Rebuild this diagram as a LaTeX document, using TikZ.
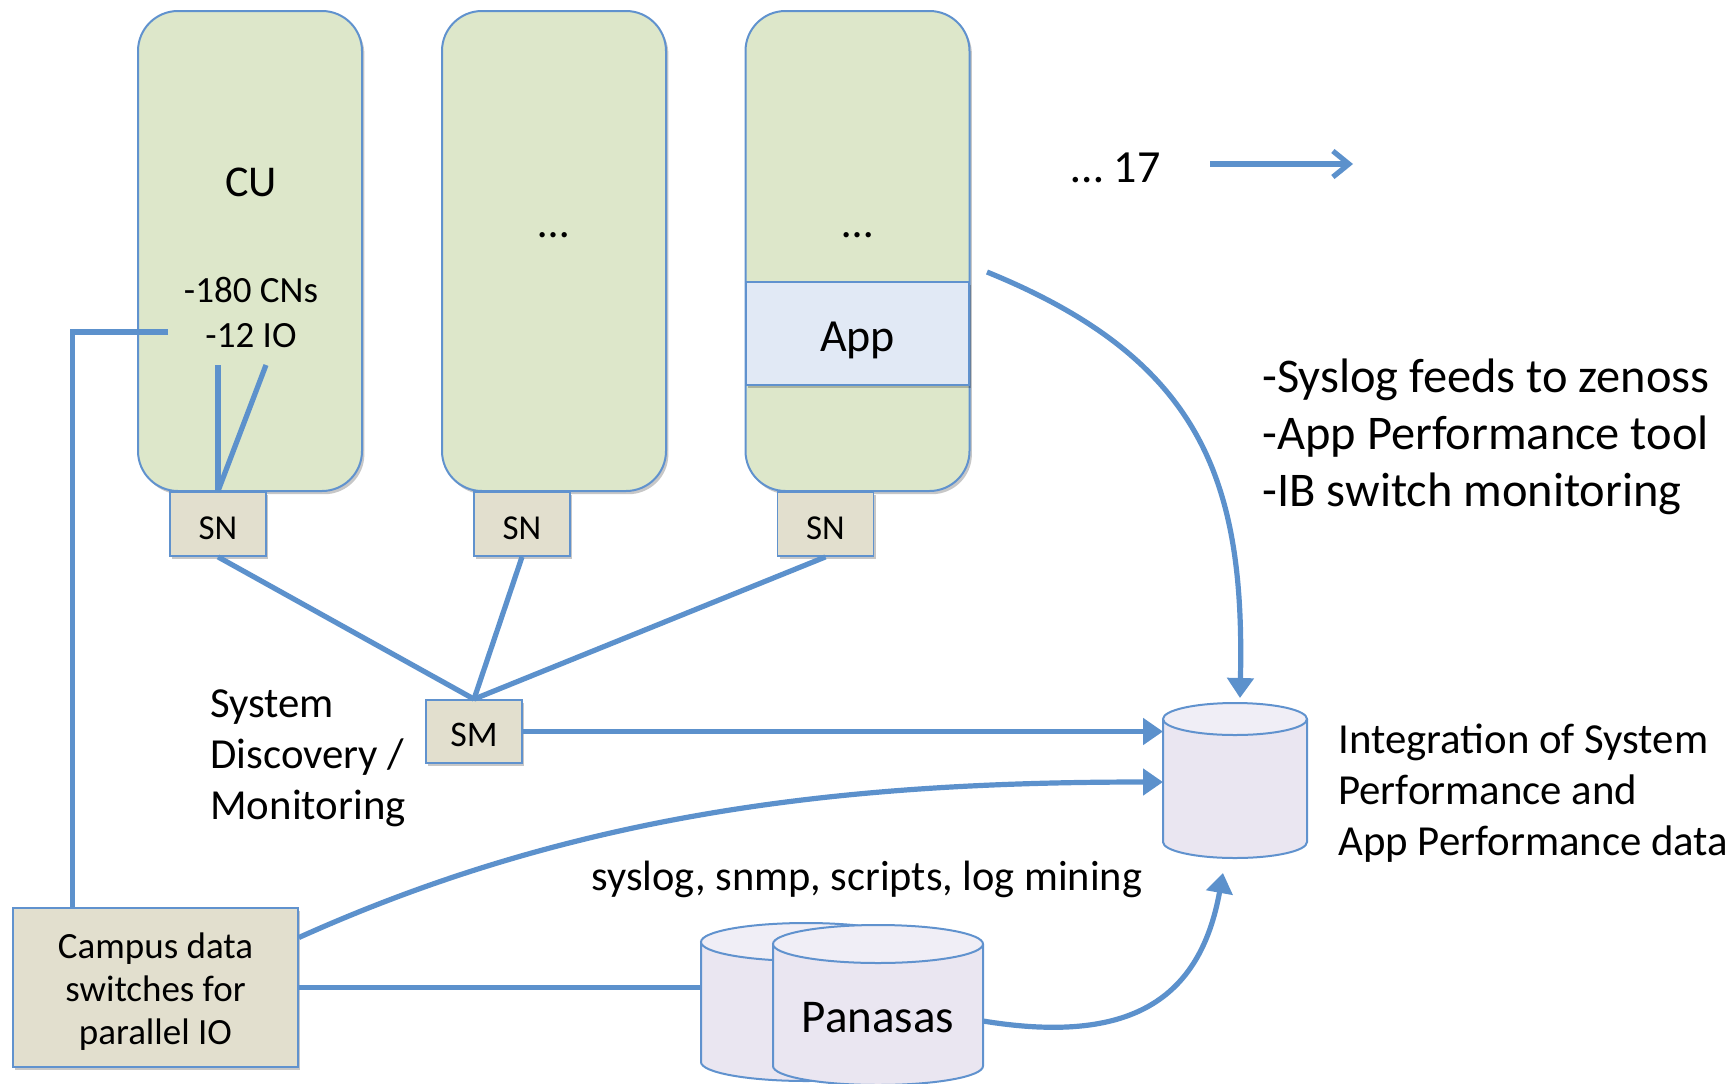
\documentclass[tikz,border=0pt]{standalone}
\usepackage{fontspec}
\setmainfont{Carlito}
\usetikzlibrary{arrows.meta,shadows}

\definecolor{linkblue}{RGB}{92,145,204}
\definecolor{edgeblue}{RGB}{96,146,206}
\definecolor{rackgreen}{RGB}{221,231,202}
\definecolor{appblue}{RGB}{225,233,245}
\definecolor{switchtan}{RGB}{226,223,206}
\definecolor{cylbody}{RGB}{234,230,241}
\definecolor{cyltop}{RGB}{240,238,246}

\newcommand\setfs[2]{\fontsize{#1}{#2}\selectfont}

\begin{document}
\begin{tikzpicture}[x=0.5pt,y=-0.5pt,
  softshadow/.style={drop shadow={shadow xshift=1.2pt,shadow yshift=-1.6pt,opacity=0.22,fill=black}},
  rack/.style={draw=edgeblue,line width=1pt,fill=rackgreen,rounded corners=20pt,
    minimum width=112pt,minimum height=240pt,inner sep=0pt,softshadow},
  band/.style={draw=edgeblue,line width=1pt,fill=appblue,minimum width=111.5pt,
    minimum height=51.5pt,inner sep=0pt,softshadow,font=\setfs{23}{27}},
  switchbox/.style={draw=edgeblue,line width=0.9pt,fill=switchtan,inner sep=0pt,softshadow},
  snbox/.style={switchbox,minimum width=48pt,minimum height=32pt,font=\setfs{17.5}{20},text height=15.5pt},
  tag/.style={anchor=west,align=left,inner sep=0pt},
  hull/.style={inner sep=0pt,outer sep=0pt},
  conn/.style={draw=linkblue,line width=2.6pt},
  arr/.style={conn,-{Triangle[length=10pt,width=13pt]}},
  cylside/.style={fill=cylbody,draw=edgeblue,line width=1pt},
  cyllid/.style={fill=cyltop,draw=edgeblue,line width=1pt},
]
\useasboundingbox (0,0) rectangle (1731,1083);

% compute racks
\node[rack] (r1) at (250,251) {};
\node[rack] (r2) at (554,251) {};
\node[rack] (r3) at (857.5,251) {};
\node[band,text height=21.5pt] (app) at (857.5,333.5) {App};

\node[font=\setfs{22}{26}] (cu) at (251,182) {CU};
\node[font=\setfs{18.5}{22.5},align=center] (cns) at (251,312) {-180 CNs\\-12 IO};
\node[font=\setfs{22}{26}] (dots2) at (554,235) {…};
\node[font=\setfs{22}{26}] (dots3) at (858,235) {…};

% service nodes and switches
\node[snbox] (sn1) at (218,524) {SN};
\node[snbox] (sn2) at (522,524) {SN};
\node[snbox] (sn3) at (825.5,524) {SN};
\node[switchbox,minimum width=48pt,minimum height=31.5pt,font=\setfs{18}{21},text height=14.9pt] (sm) at (474,731.5) {SM};
\node[switchbox,minimum width=142.5pt,minimum height=79.5pt] (campus) at (155.5,987.5) {};
\node[align=center,font=\setfs{18.5}{21.5}] (campustext) at (155.5,992) {Campus data\\switches for\\parallel IO};

% text labels
\node[font=\setfs{23}{26}] (more) at (1116,168) {… 17};
\node[tag,font=\setfs{24.2}{28.5}] (feeds) at (1262,436.5)
  {-Syslog feeds to zenoss\\-App Performance tool\\-IB switch monitoring};
\node[tag,font=\setfs{21.4}{25.5}] (integ) at (1338,793.5)
  {Integration of System\\Performance and\\App Performance data};
\node[tag,font=\setfs{21.4}{25.5}] (disc) at (210,758.5)
  {System\\Discovery /\\Monitoring};
\node[font=\setfs{21.2}{25}] (tools) at (867,879) {syslog, snmp, scripts, log mining};

% outlines of the data stores (used as connector targets)
\node[hull,minimum width=72pt,minimum height=77.5pt] (ints) at (1235,780.5) {};
\node[hull,minimum width=105pt,minimum height=76pt] (pb) at (806,1000) {};
\node[hull,minimum width=105pt,minimum height=76pt] (pf) at (878,1000) {};

% connectors
\coordinate (ioA) at (218,365);
\coordinate (ioB) at (266,365);
\coordinate (ioL) at (168,332);
\coordinate (moreA) at (1210,164);
\coordinate (moreB) at (1353,164);

\draw[conn] (ioA) -- (sn1.north);
\draw[conn] (ioB) -- (sn1.north);
\draw[conn] (ioL) -| ([xshift=30pt]campus.north west);
\draw[conn] (sn1.south) -- (sm.north);
\draw[conn] (sn2.south) -- (sm.north);
\draw[conn] (sn3.south) -- (sm.north);
\draw[arr] (sm.east) -- (sm.east -| ints.west);
\draw[arr] ([yshift=25pt]campus.east) .. controls +(282,-127) and +(-313,0) .. ([yshift=-0.75pt]ints.west);
\draw[conn] (campus.east) -- (campus.east -| pb.west);
\draw[arr] ([yshift=-10.5pt]pf.east) .. controls +(147,24) and +(-23,127) .. ([xshift=-6pt,yshift=-7.5pt]ints.south);
\draw[arr] ([xshift=8.5pt,yshift=4.5pt]app.north east) .. controls +(214,87) and +(5,-218) .. ([xshift=2.5pt,yshift=2.5pt]ints.north);
\draw[conn,line width=2.6pt,-{Straight Barb[length=8pt,width=13pt]}] (moreA) -- (moreB);

% integration store
\path[cylside] (1163,719) -- (1163,842) arc[start angle=180,end angle=360,x radius=36pt,y radius=8pt] -- (1307,719);
\path[cyllid] (1235,719) ellipse[x radius=36pt,y radius=8pt];

% Panasas stores
\path[cylside] (701,942) -- (701,1062) arc[start angle=180,end angle=360,x radius=52.5pt,y radius=9.5pt] -- (911,942);
\path[cyllid] (806,942) ellipse[x radius=52.5pt,y radius=9.5pt];
\path[cylside] (773,944) -- (773,1066) arc[start angle=180,end angle=360,x radius=52.5pt,y radius=9.5pt] -- (983,944);
\path[cyllid] (878,944) ellipse[x radius=52.5pt,y radius=9.5pt];
\node[font=\setfs{23.5}{28}] (pantext) at (878,1018) {Panasas};
\end{tikzpicture}
\end{document}
